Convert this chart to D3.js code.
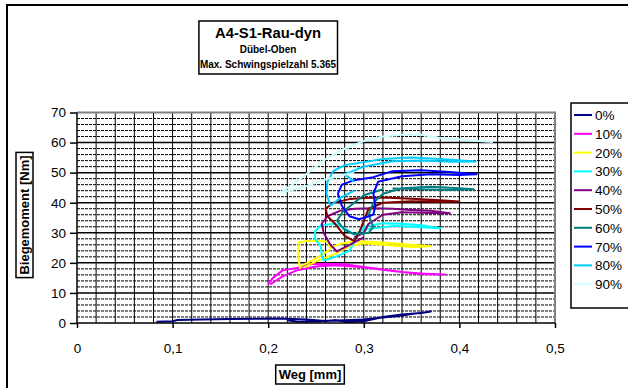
<!DOCTYPE html>
<html>
<head>
<meta charset="utf-8">
<script src="https://cdn.jsdelivr.net/npm/d3@7"></script>
<style>
  body { margin: 0; background: #fff; }
  svg { display: block; font-family: 'Liberation Sans', Arial, sans-serif; }
</style>
</head>
<body>
<div id="chart"></div>
<script>
// series names and colours (excel default line colours)
const seriesNames = ['0%', '10%', '20%', '30%', '40%', '50%', '60%', '70%', '80%', '90%'];
const seriesColors = ['#000080', '#FF00FF', '#FFFF00', '#00FFFF', '#800080', '#800000', '#008080', '#0000FF', '#00CCFF', '#CCFFFF'];

// Weg [mm], Biegemoment [Nm] pairs
const s0 = [[0.083,0.4],[0.1,0.6],[0.105,1.0],[0.13,1.2],[0.16,1.3],[0.19,1.4],[0.21,1.5],[0.24,1.2],[0.26,0.7],[0.28,0.9],[0.3,1.2],[0.32,1.8],[0.34,2.5],[0.355,3.2],[0.365,3.6],[0.37,3.8],[0.36,3.3],[0.34,2.8],[0.32,2.0],[0.3,0.6],[0.285,0.3],[0.27,0.9],[0.25,0.5],[0.23,0.4],[0.22,0.9]];
const s10 = [[0.2,13],[0.205,15],[0.215,17.5],[0.23,18.3],[0.245,19.5],[0.26,19.7],[0.28,19.5],[0.3,18.6],[0.32,17.8],[0.34,17],[0.36,16.5],[0.385,16.1],[0.36,16.3],[0.33,17.3],[0.3,18.5],[0.27,19.2],[0.25,18.8],[0.23,17.5],[0.215,15.5],[0.202,12.8]];
const s20 = [[0.265,24.5],[0.25,21.5],[0.235,19],[0.233,18.3],[0.232,21],[0.231,24],[0.232,26.8],[0.24,27.3],[0.255,27.3],[0.262,27],[0.265,25],[0.275,26.3],[0.29,27.2],[0.31,27],[0.33,26.5],[0.35,26],[0.37,25.5],[0.35,25.3],[0.32,26],[0.3,26.5],[0.285,25.5],[0.27,23],[0.25,20.5],[0.238,18.5]];
const s30 = [[0.27,33],[0.255,32.5],[0.249,30.5],[0.249,28],[0.255,25.5],[0.256,22.5],[0.258,20.8],[0.27,22],[0.285,24],[0.29,27],[0.295,30],[0.3,32],[0.32,33.2],[0.34,33],[0.36,32.5],[0.38,31.5],[0.36,31.8],[0.33,32.3],[0.3,31],[0.29,29.5],[0.28,31.5],[0.27,33]];
const s40 = [[0.3,28.5],[0.285,26],[0.272,23.8],[0.265,26],[0.258,30],[0.256,33],[0.262,35.5],[0.275,37.3],[0.29,38],[0.31,38.2],[0.33,38],[0.35,37.6],[0.37,37.3],[0.39,36.5],[0.37,36.6],[0.34,36.8],[0.32,36],[0.305,33],[0.3,30],[0.29,28.5]];
const s50 = [[0.29,27.2],[0.28,29],[0.27,33],[0.262,35.5],[0.26,38],[0.268,40],[0.285,41.2],[0.3,41.6],[0.32,41.7],[0.35,41.3],[0.38,40.8],[0.4,40.4],[0.38,40.2],[0.35,40.5],[0.32,40],[0.305,38],[0.3,34],[0.295,30],[0.29,27.2]];
const s60 = [[0.32,44.5],[0.3,42.5],[0.29,40],[0.278,37],[0.272,34],[0.28,31],[0.29,29.5],[0.305,30],[0.31,32],[0.305,36],[0.31,40],[0.32,43],[0.34,44.8],[0.37,45.3],[0.4,44.8],[0.415,44.5],[0.39,44.2],[0.36,44.5],[0.33,44.7]];
const s70 = [[0.31,36],[0.295,34.5],[0.285,35.5],[0.277,39],[0.273,43],[0.277,46],[0.29,47.5],[0.31,48.5],[0.33,50.5],[0.36,50.8],[0.39,50.2],[0.418,49.5],[0.4,49.2],[0.37,49.5],[0.34,48.8],[0.315,47],[0.31,43],[0.312,39],[0.31,36]];
const s80 = [[0.29,44],[0.275,41.5],[0.265,39],[0.261,43],[0.262,47],[0.268,50.5],[0.28,52.5],[0.3,53.5],[0.32,54.5],[0.35,55],[0.38,54.5],[0.417,53.7],[0.39,53.6],[0.36,54],[0.33,53.8],[0.3,52],[0.28,49.5],[0.29,47]];
const s90 = [[0.29,50],[0.262,48],[0.24,45.5],[0.213,43.3],[0.225,46],[0.24,49.5],[0.26,54.5],[0.28,58],[0.3,60.5],[0.32,62],[0.34,62.6],[0.36,62.6],[0.38,61.5],[0.4,61],[0.42,60.5],[0.435,60.2]];
const allSeries = [s0, s10, s20, s30, s40, s50, s60, s70, s80, s90];

// axis ticks
const xTicks = [0, 0.1, 0.2, 0.3, 0.4, 0.5];
const xTickLabels = ['0', '0,1', '0,2', '0,3', '0,4', '0,5'];
const yTicks = [0, 10, 20, 30, 40, 50, 60, 70];

const titleLines = ['A4-S1-Rau-dyn', 'Dübel-Oben', 'Max. Schwingspielzahl 5.365'];

var width = 628, height = 388;
var plot = { left: 77, right: 555, top: 112.5, bottom: 323 };

var svg = d3.select('#chart').append('svg').attr('width', width).attr('height', height);

// outer chart border (runs off right and bottom)
svg.append('rect')
  .attr('x', 7).attr('y', 5).attr('width', 700).attr('height', 500)
  .attr('fill', '#fff').attr('stroke', '#000').attr('stroke-width', 2);

var x = d3.scaleLinear().domain([0, 0.5]).range([plot.left, plot.right]);
var y = d3.scaleLinear().domain([0, 70]).range([plot.bottom, plot.top]);

var grid = svg.append('g');

// minor horizontal gridlines, dashed every 2
grid.selectAll('.hminor')
  .data(d3.range(2, 70, 2).filter(v => v % 10 !== 0))
  .enter().append('line')
  .attr('x1', plot.left).attr('x2', plot.right)
  .attr('y1', d => y(d)).attr('y2', d => y(d))
  .attr('stroke', '#000').attr('stroke-width', 1)
  .attr('stroke-dasharray', '3,1');

// vertical gridlines every 0.02
grid.selectAll('.vgrid')
  .data(d3.range(1, 25).map(i => i * 0.02))
  .enter().append('line')
  .attr('x1', d => x(d)).attr('x2', d => x(d))
  .attr('y1', plot.top).attr('y2', plot.bottom)
  .attr('stroke', '#000').attr('stroke-width', 1);

// major horizontal gridlines
grid.selectAll('.hmajor')
  .data(yTicks.slice(1, -1))
  .enter().append('line')
  .attr('x1', plot.left).attr('x2', plot.right)
  .attr('y1', d => y(d)).attr('y2', d => y(d))
  .attr('stroke', '#000').attr('stroke-width', 1.5);

// plot area border, grey on top and right
svg.append('path')
  .attr('d', `M${plot.left},${plot.top}H${plot.right}V${plot.bottom}`)
  .attr('fill', 'none').attr('stroke', '#808080').attr('stroke-width', 2);

// series lines
var line = d3.line().x(d => x(d[0])).y(d => y(d[1]));
svg.append('g').selectAll('path')
  .data(allSeries)
  .enter().append('path')
  .attr('d', line)
  .attr('fill', 'none')
  .attr('stroke', (d, i) => seriesColors[i])
  .attr('stroke-width', 2)
  .attr('stroke-linejoin', 'round');

// axes
var yAxis = svg.append('g')
  .attr('transform', `translate(${plot.left},0)`)
  .call(d3.axisLeft(y).tickValues(yTicks).tickSize(7).tickPadding(4));
var xAxis = svg.append('g')
  .attr('transform', `translate(0,${plot.bottom})`)
  .call(d3.axisBottom(x).tickValues(xTicks).tickSize(5).tickPadding(15).tickFormat((d, i) => xTickLabels[i]));
[xAxis, yAxis].forEach(a => {
  a.select('.domain').attr('stroke', '#000').attr('stroke-width', 1.5);
  a.selectAll('.tick line').attr('stroke', '#000').attr('stroke-width', 1.5);
  a.selectAll('text').attr('font-size', 13.5).attr('fill', '#000')
    .style('font-family', "'Liberation Sans', Arial, sans-serif");
});
xAxis.select('.domain').attr('d', `M${plot.left},0H${plot.right}`);
yAxis.select('.domain').attr('d', `M0,${plot.bottom}V${plot.top}`);

// boxed text helper
function boxedText(g, pad) {
  var bb = g.node().getBBox();
  g.insert('rect', ':first-child')
    .attr('x', bb.x - pad[0]).attr('y', bb.y - pad[1])
    .attr('width', bb.width + pad[0] * 2).attr('height', bb.height + pad[1] * 2)
    .attr('fill', '#fff').attr('stroke', '#000').attr('stroke-width', 1.5);
}

// title
var title = svg.append('g').attr('font-weight', 'bold').attr('text-anchor', 'middle');
title.append('text').attr('x', 268).attr('y', 38).attr('font-size', 14.8).text(titleLines[0]);
title.append('text').attr('x', 268).attr('y', 53).attr('font-size', 10).text(titleLines[1]);
title.append('text').attr('x', 268).attr('y', 68).attr('font-size', 10).text(titleLines[2]);
boxedText(title, [1, 4]);

// axis titles
var yTitle = svg.append('g').attr('transform', 'translate(29,215) rotate(-90)');
yTitle.append('text').attr('text-anchor', 'middle').attr('font-weight', 'bold').attr('font-size', 13)
  .text('Biegemoment [Nm]');
boxedText(yTitle, [3, 1]);

var xTitle = svg.append('g');
xTitle.append('text').attr('x', 310).attr('y', 379).attr('text-anchor', 'middle')
  .attr('font-weight', 'bold').attr('font-size', 13).text('Weg [mm]');
boxedText(xTitle, [3, 2]);

// legend
var legend = svg.append('g').attr('transform', 'translate(571,103)');
legend.append('rect')
  .attr('x', 0).attr('y', 0).attr('width', 100).attr('height', 205)
  .attr('fill', '#fff').attr('stroke', '#000').attr('stroke-width', 1.5);
var items = legend.selectAll('.item')
  .data(seriesNames)
  .enter().append('g')
  .attr('transform', (d, i) => `translate(0,${12 + i * 18.8})`);
items.append('line')
  .attr('x1', 3).attr('x2', 21).attr('y1', 0).attr('y2', 0)
  .attr('stroke', (d, i) => seriesColors[i]).attr('stroke-width', 2);
items.append('text')
  .attr('x', 24).attr('y', 5).attr('font-size', 13.5).text(d => d);
</script>
</body>
</html>
